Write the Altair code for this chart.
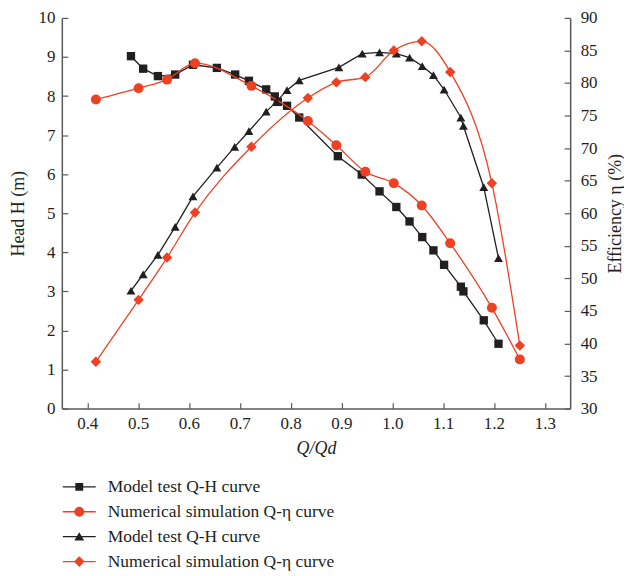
import altair as alt
import pandas as pd

# ---------------- data ----------------
x_ticks = [0.4, 0.5, 0.6, 0.7, 0.8, 0.9, 1.0, 1.1, 1.2, 1.3]
h_ticks = [0, 1, 2, 3, 4, 5, 6, 7, 8, 9, 10]
eta_ticks = [30, 35, 40, 45, 50, 55, 60, 65, 70, 75, 80, 85, 90]

# Model test Q-H (black squares)
mt_h_q = [0.486, 0.510, 0.539, 0.573, 0.608, 0.655, 0.691, 0.718, 0.752, 0.769, 0.775,
          0.793, 0.817, 0.893, 0.940, 0.975, 1.008, 1.034, 1.059, 1.081, 1.102, 1.135,
          1.140, 1.180, 1.209]
mt_h_v = [9.02, 8.70, 8.51, 8.55, 8.80, 8.72, 8.55, 8.39, 8.17, 7.99, 7.85,
          7.75, 7.45, 6.46, 5.99, 5.56, 5.16, 4.79, 4.39, 4.05, 3.68, 3.12,
          3.00, 2.26, 1.66]

# Numerical simulation head (red circles)
ns_h_q = [0.417, 0.501, 0.557, 0.612, 0.723, 0.834, 0.890, 0.947, 1.003, 1.058, 1.114, 1.196, 1.251]
ns_h_v = [7.91, 8.20, 8.42, 8.84, 8.26, 7.36, 6.74, 6.06, 5.77, 5.20, 4.23, 2.58, 1.26]

# Model test efficiency (black triangles)
mt_e_q = [0.486, 0.510, 0.539, 0.573, 0.608, 0.655, 0.690, 0.718, 0.752, 0.772, 0.793,
          0.817, 0.895, 0.941, 0.975, 1.008, 1.034, 1.059, 1.081, 1.102, 1.135, 1.140,
          1.180, 1.209]
mt_e_v = [48.1, 50.6, 53.6, 57.9, 62.6, 67.0, 70.2, 72.6, 75.6, 77.1, 78.9,
          80.4, 82.4, 84.5, 84.7, 84.5, 83.9, 82.6, 81.2, 79.0, 74.7, 73.4,
          64.0, 53.1]

# Numerical simulation efficiency (red diamonds)
ns_e_q = [0.417, 0.501, 0.557, 0.612, 0.723, 0.834, 0.890, 0.947, 1.003, 1.058, 1.114, 1.196, 1.251]
ns_e_v = [37.2, 46.7, 53.2, 60.1, 70.2, 77.7, 80.1, 80.9, 85.0, 86.4, 81.7, 64.6, 39.7]

legend_keys = ["s1", "s2", "s3", "s4"]
legend_labels = ["Model test Q-H curve", "Numerical simulation Q-η curve",
                 "Model test Q-H curve", "Numerical simulation Q-η curve"]

# ---------------- style ----------------
BLACK = "#231F20"
RED = "#EE4023"
AX = "#58595B"
FONT = "Liberation Serif"
W, H = 510, 392

xscale = alt.Scale(domain=[0.35, 1.35], nice=False, zero=False)
hscale = alt.Scale(domain=[0, 10], nice=False, zero=False)
escale = alt.Scale(domain=[30, 90], nice=False, zero=False)

x_axis = alt.Axis(values=x_ticks, format=".1f", ticks=False, labelPadding=7,
                  title="Q/Qd", titleFontStyle="italic", titlePadding=8, grid=False)
h_axis = alt.Axis(orient="left", values=h_ticks, ticks=False, labelPadding=7,
                  title="Head H (m)", titlePadding=10, grid=False)
e_axis = alt.Axis(orient="right", values=eta_ticks, ticks=False, labelPadding=10,
                  title="Efficiency η (%)", titleAngle=270, titleBaseline="top",
                  titlePadding=9, grid=False)


def series(q, v, color, shape, size, interp, yscale, yaxis, xaxis):
    df = pd.DataFrame({"q": q, "v": v})
    enc = dict(x=alt.X("q:Q", scale=xscale, axis=xaxis),
               y=alt.Y("v:Q", scale=yscale, axis=yaxis))
    line = alt.Chart(df).mark_line(color=color, strokeWidth=1.3, interpolate=interp).encode(**enc)
    pts = alt.Chart(df).mark_point(shape=shape, filled=True, opacity=1, size=size,
                                   color=color).encode(**enc)
    return [line, pts]


head_layer = alt.layer(
    *series(mt_h_q, mt_h_v, BLACK, "square", 70, "linear", hscale, h_axis, x_axis),
    *series(ns_h_q, ns_h_v, RED, "circle", 100, "monotone", hscale, h_axis, x_axis),
)
eff_layer = alt.layer(
    *series(mt_e_q, mt_e_v, BLACK, "triangle-up", 80, "linear", escale, e_axis, None),
    *series(ns_e_q, ns_e_v, RED, "diamond", 110, "monotone", escale, e_axis, None),
)

# inward tick marks (empty layers that only carry axes)
tick_style = dict(labels=False, domain=False, ticks=True, tickSize=6, tickColor=AX,
                  tickWidth=1.2, title=None, grid=False)
xtick = alt.Chart(pd.DataFrame({"q": x_ticks})).transform_filter("false").mark_point().encode(
    x=alt.X("q:Q", scale=xscale, axis=alt.Axis(orient="top", offset=-H, values=x_ticks, **tick_style)))
ytickL = alt.Chart(pd.DataFrame({"v": h_ticks})).transform_filter("false").mark_point().encode(
    y=alt.Y("v:Q", scale=hscale, axis=alt.Axis(orient="right", offset=-W, values=h_ticks, **tick_style)))
ytickR = alt.Chart(pd.DataFrame({"v": eta_ticks})).transform_filter("false").mark_point().encode(
    y=alt.Y("v:Q", scale=escale, axis=alt.Axis(orient="left", offset=-W, values=eta_ticks, **tick_style)))

# legend (line + marker symbols)
paths = [
    "M-1,-0.04H1V0.04H-1ZM-0.24,-0.24H0.24V0.24H-0.24Z",
    "M-1,-0.04H1V0.04H-1ZM-0.3,0A0.3,0.3 0 1,1 0.3,0A0.3,0.3 0 1,1 -0.3,0Z",
    "M-1,-0.04H1V0.04H-1ZM0,-0.27L0.3,0.23L-0.3,0.23Z",
    "M-1,-0.04H1V0.04H-1ZM0,-0.32L0.32,0L0,0.32L-0.32,0Z",
]
label_map = "{" + ",".join(f"'{k}':'{l}'" for k, l in zip(legend_keys, legend_labels)) + "}[datum.value]"
leg = alt.Legend(title=None, orient="none", legendX=1, legendY=454, direction="vertical",
                 labelExpr=label_map, symbolSize=1089, symbolStrokeWidth=0,
                 labelFont=FONT, labelFontSize=17.5, labelColor=BLACK, labelOffset=12,
                 labelLimit=500, rowPadding=0)
legend_layer = alt.Chart(pd.DataFrame({"key": legend_keys})).transform_filter("false").mark_point(
    filled=True, opacity=1).encode(
    color=alt.Color("key:N", scale=alt.Scale(domain=legend_keys, range=[BLACK, RED, BLACK, RED]), legend=leg),
    shape=alt.Shape("key:N", scale=alt.Scale(domain=legend_keys, range=paths), legend=leg),
)

chart = alt.layer(head_layer, eff_layer, xtick, ytickL, ytickR, legend_layer).resolve_scale(
    x="independent", y="independent"
).properties(
    width=W, height=H, padding={"left": 2, "top": 0, "right": 0, "bottom": 0}, background="white"
).configure_view(stroke=None).configure_axis(
    labelFont=FONT, labelFontSize=17, labelColor=BLACK, titleFont=FONT, titleFontSize=18,
    titleFontWeight="normal", titleColor=BLACK, domainColor=AX, domainWidth=1.5
)

chart.save("out.html", embed_options={"renderer": "svg", "actions": False})
